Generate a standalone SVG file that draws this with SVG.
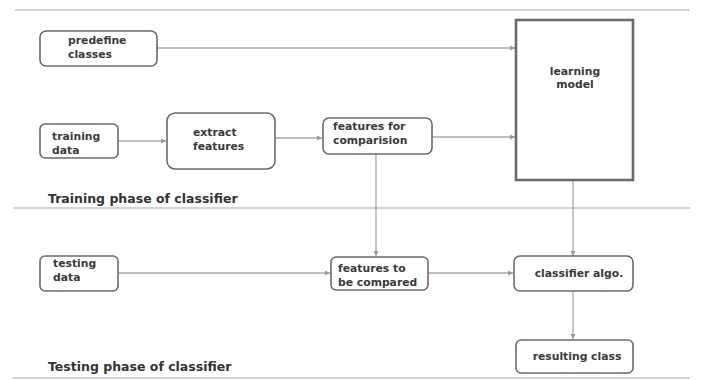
<svg xmlns="http://www.w3.org/2000/svg" width="701" height="380" viewBox="0 0 701 380">
<defs>
<style>
.box{fill:#fff;stroke:#6b6b6b;stroke-width:1.6}
.big{fill:#fff;stroke:#6b6b6b;stroke-width:2.6}
.t{font-family:"DejaVu Sans","Liberation Sans",Arial,sans-serif;font-size:10.8px;font-weight:bold;fill:#3a3a3a}
.lbl{font-family:"DejaVu Sans","Liberation Sans",Arial,sans-serif;font-size:12.5px;font-weight:bold;fill:#333}
.sep{stroke:#d4d4d4;stroke-width:2}
.c{stroke:#aaa;stroke-width:1.3;fill:none;marker-end:url(#ah)}
</style>
<marker id="ah" markerWidth="6" markerHeight="6" refX="5" refY="3" orient="auto" markerUnits="userSpaceOnUse">
<path d="M0,0.5 L5,3 L0,5.5 z" fill="#999"/>
</marker>
</defs>
<rect width="701" height="380" fill="#fff"/>
<g id="separators">
<line class="sep" x1="15" y1="10" x2="690" y2="10"/>
<line class="sep" x1="13" y1="208" x2="690" y2="208"/>
<line class="sep" x1="13" y1="378" x2="690" y2="378"/>
</g>
<g id="connectors">
<line class="c" x1="157" y1="48" x2="515" y2="48"/>
<line class="c" x1="118" y1="141" x2="166" y2="141"/>
<line class="c" x1="275" y1="138" x2="322" y2="138"/>
<line class="c" x1="432" y1="137" x2="515" y2="137"/>
<line class="c" x1="376" y1="154" x2="376" y2="256"/>
<line class="c" x1="573" y1="180" x2="573" y2="256"/>
<line class="c" x1="118" y1="273" x2="330" y2="273"/>
<line class="c" x1="428" y1="273" x2="513" y2="273"/>
<line class="c" x1="573" y1="291" x2="573" y2="339"/>
</g>
<g id="predefine">
<rect class="box" x="40" y="31" width="117" height="35" rx="6"/>
<text class="t" x="68" y="44">predefine</text>
<text class="t" x="68" y="58">classes</text>
</g>
<g id="training">
<rect class="box" x="40" y="124" width="78" height="34" rx="5"/>
<text class="t" x="52" y="140">training</text>
<text class="t" x="52" y="154">data</text>
</g>
<g id="extract">
<rect class="box" x="167" y="113" width="108" height="56" rx="8"/>
<text class="t" x="193" y="136">extract</text>
<text class="t" x="193" y="150">features</text>
</g>
<g id="featcomp">
<rect class="box" x="323" y="118" width="109" height="36" rx="6"/>
<text class="t" x="333" y="130">features for</text>
<text class="t" x="333" y="144">comparision</text>
</g>
<g id="learning">
<rect class="big" x="516" y="20" width="117" height="160"/>
<text class="t" x="575" y="75" text-anchor="middle">learning</text>
<text class="t" x="575" y="88" text-anchor="middle">model</text>
</g>
<g id="training-label">
<text class="lbl" x="48" y="203">Training phase of classifier</text>
</g>
<g id="testing">
<rect class="box" x="40" y="256" width="78" height="35" rx="5"/>
<text class="t" x="53" y="267">testing</text>
<text class="t" x="53" y="281">data</text>
</g>
<g id="featbe">
<rect class="box" x="331" y="257" width="97" height="33" rx="5"/>
<text class="t" x="338" y="272">features to</text>
<text class="t" x="338" y="286">be compared</text>
</g>
<g id="classifier">
<rect class="box" x="514" y="256" width="119" height="35" rx="6"/>
<text class="t" x="579" y="277" text-anchor="middle">classifier algo.</text>
</g>
<g id="resulting">
<rect class="box" x="516" y="340" width="117" height="33" rx="5"/>
<text class="t" x="577" y="360" text-anchor="middle">resulting class</text>
</g>
<g id="testing-label">
<text class="lbl" x="48" y="371">Testing phase of classifier</text>
</g>
</svg>
